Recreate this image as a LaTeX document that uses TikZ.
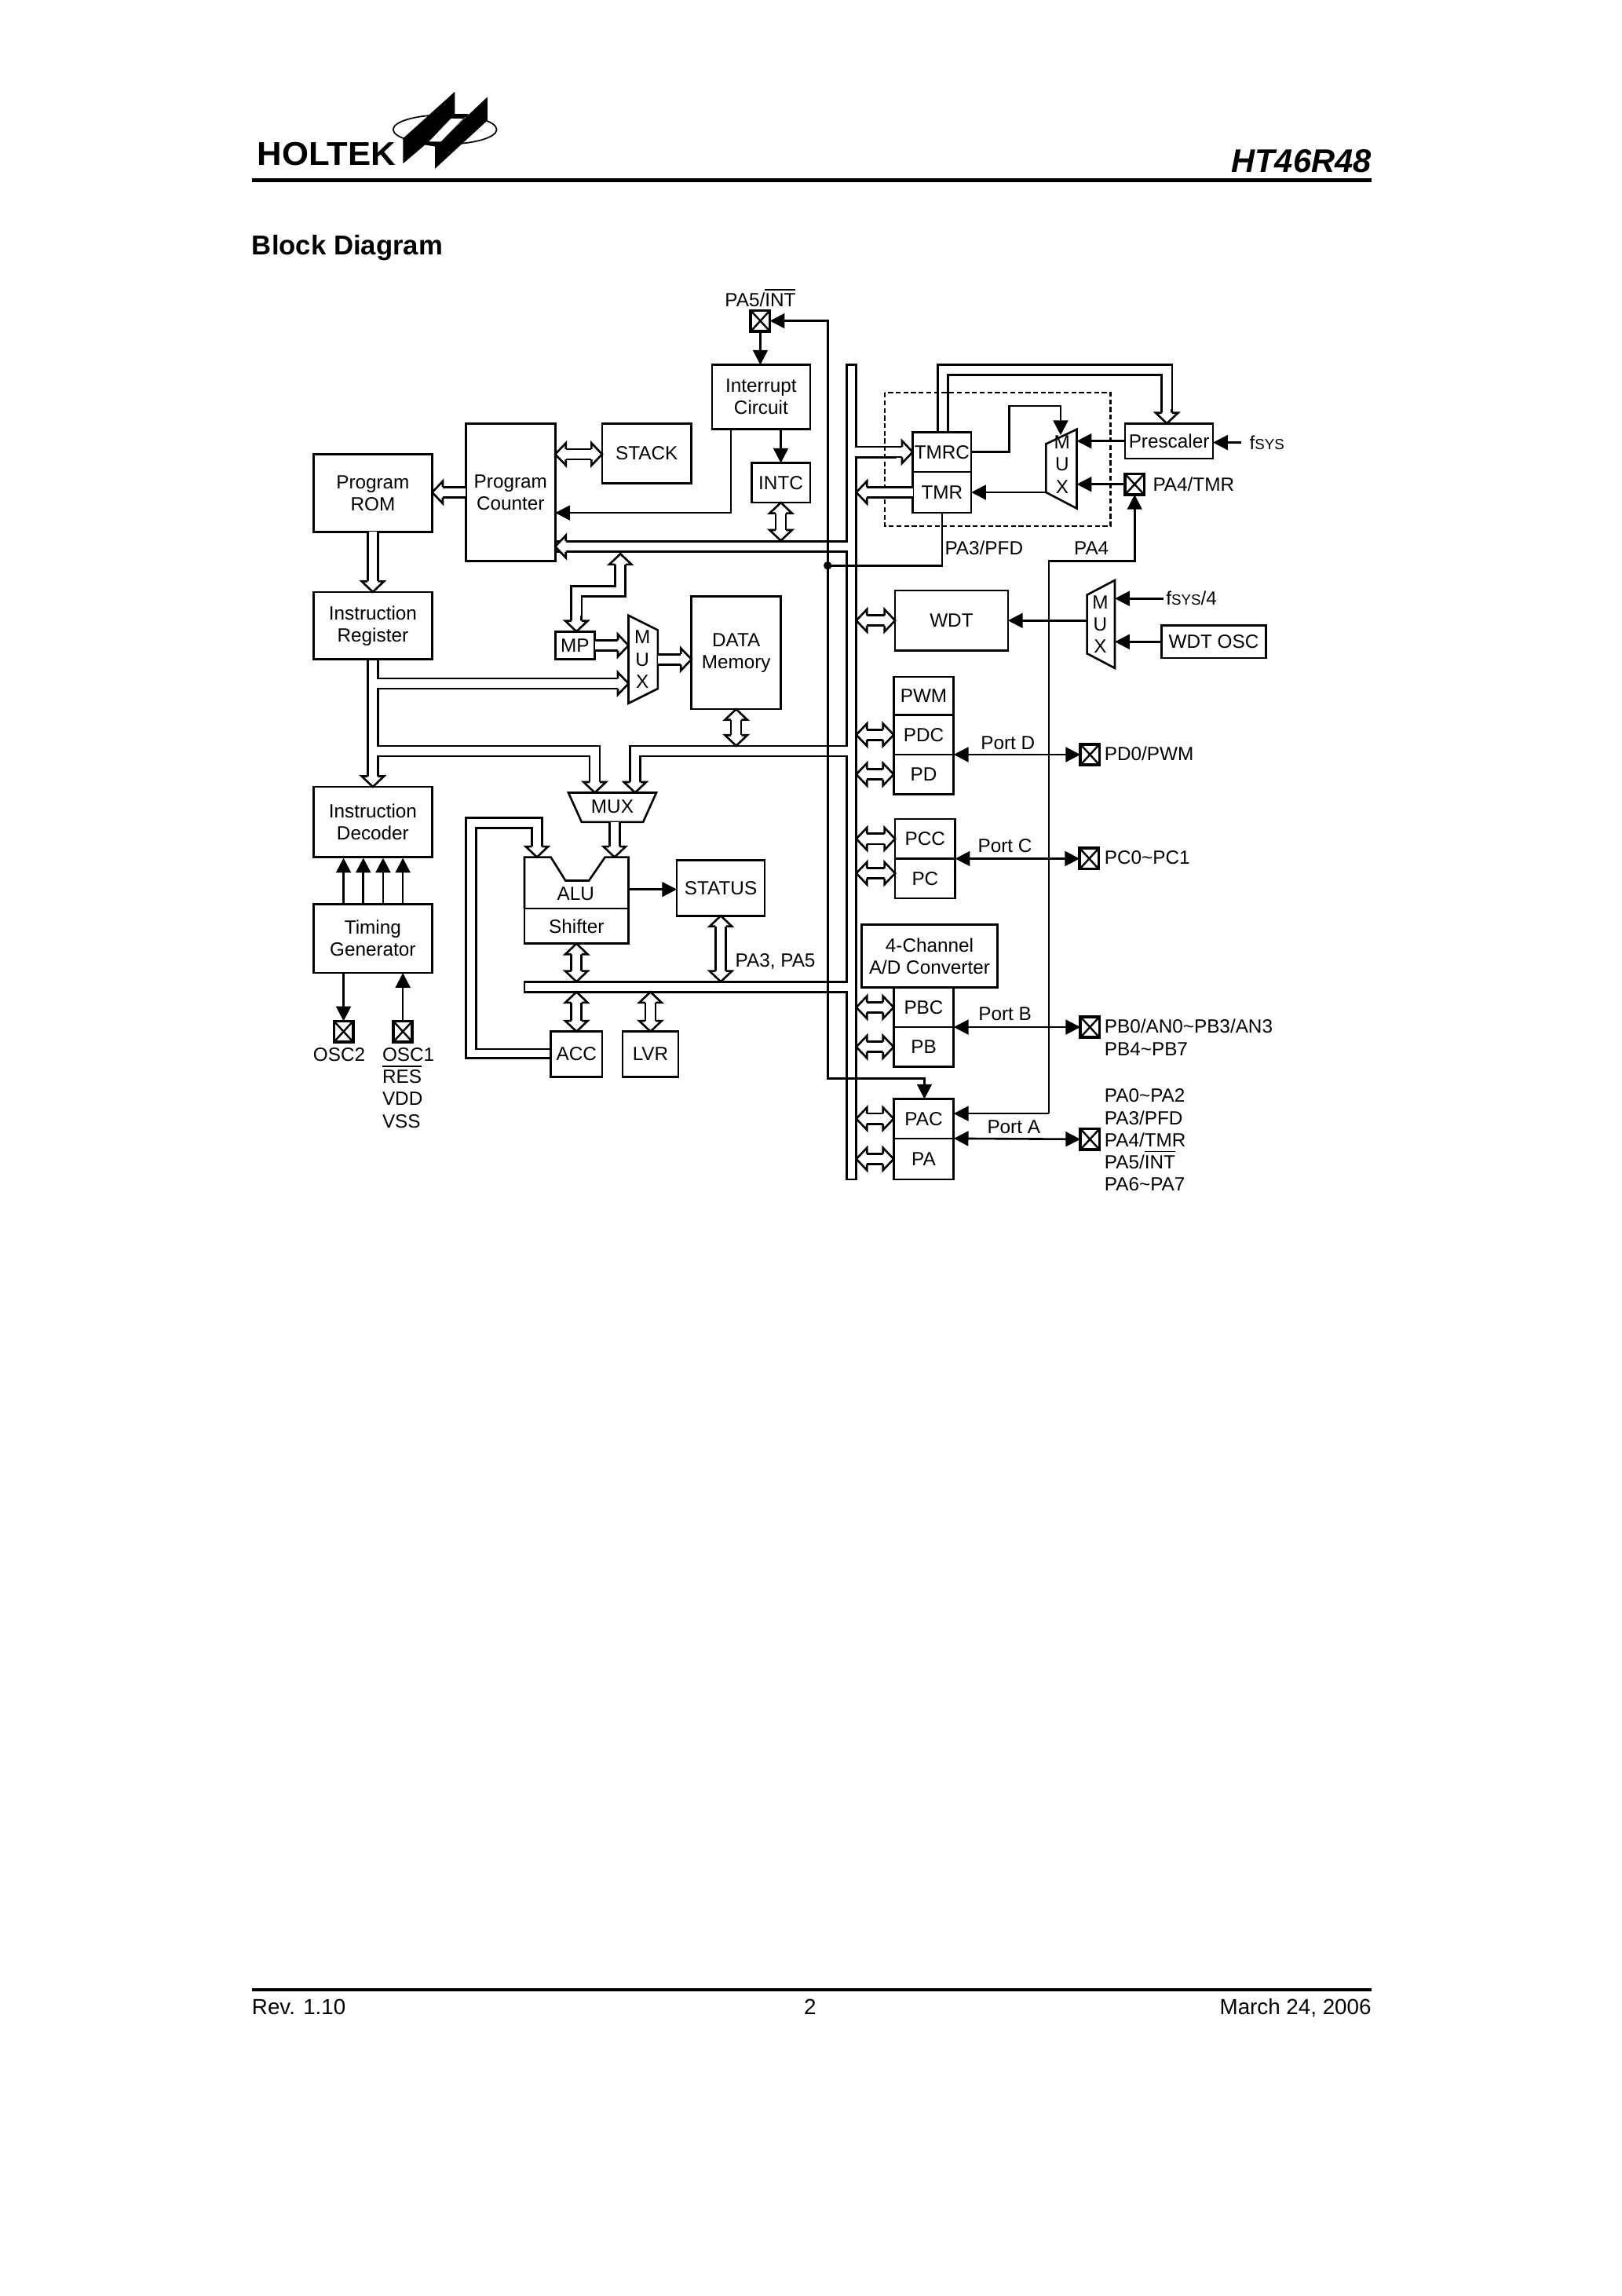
\documentclass[tikz,border=0pt]{standalone}
\usepackage{fontspec}
\setmainfont{Liberation Sans}
\usetikzlibrary{arrows.meta}

\pgfarrowsdeclare{bushead}{bushead}{\pgfarrowsleftextend{0pt}\pgfarrowsrightextend{3.9pt}}{
    \pgfsetlinewidth{.75pt}
    \pgfsetmiterjoin
    \pgfsetfillcolor{white}
    \pgfpathmoveto{\pgfpoint{0pt}{1.9pt}}
    \pgfpathlineto{\pgfpoint{0pt}{4.1pt}}
    \pgfpathlineto{\pgfpoint{3.9pt}{0pt}}
    \pgfpathlineto{\pgfpoint{0pt}{-4.1pt}}
    \pgfpathlineto{\pgfpoint{0pt}{-1.9pt}}
    \pgfusepathqfillstroke
}

\tikzset{
    bus/.style={double,double distance=3pt,arrows={-bushead}},
    busboth/.style={double,double distance=3pt,arrows={bushead-bushead}},
    block/.style={draw,rectangle,align=center,fill=white},
    padbox/.style={draw,rectangle,line width=1.05pt,minimum width=7pt,minimum height=7.6pt,
        path picture={
            \draw[line width=.7pt] (path picture bounding box.north west) -- (path picture bounding box.south east);
            \draw[line width=.7pt] (path picture bounding box.north east) -- (path picture bounding box.south west);
        }},
    tag/.style={anchor=west}
}
\newcommand{\fsys}{f{\fontsize{5.4}{6}\selectfont SYS}}
\newcommand{\blockbox}[6]{
    \node[block,minimum width={(#4-#2)*.5376pt},minimum height={(#5-#3)*.5376pt}] (#1) at ({(#2+#4)/2},{(#3+#5)/2}) {#6};
}

\begin{document}
\begin{tikzpicture}[x=.5376pt,y=-.5376pt,line width=.75pt,>={Triangle[length=5.4pt,width=5.4pt]},
        every node/.style={inner sep=0pt,outer sep=0pt,font=\fontsize{7}{8.1}\selectfont}]
    \useasboundingbox (0,0) rectangle (1107,1567);

    \begin{scope}[shift={(159.7,53.2)},xscale=.2717,yscale=.2228]
        \draw[line width=.5pt] (530,158) ellipse (130 and 45);
        \fill (555,42) -- (425,185) -- (425,262) -- (480,205) -- (555,110) -- cycle;
        \fill (637,58) -- (505,210) -- (505,278) -- (570,205) -- (637,130) -- cycle;
        \fill (555,110) -- (590,110) -- (505,210) -- (480,205) -- cycle;
        \fill[white] (545,125) -- (575,125) -- (520,195) -- (490,195) -- cycle;
    \end{scope}
    \node[anchor=west,xscale=1.04,font=\fontsize{12.1}{13}\bfseries\selectfont] (holtek) at (175.5,105) {HOLTEK};
    \node[anchor=east,font=\fontsize{12}{13}\bfseries\itshape\selectfont] (part) at (936,110) {HT46R48};
    \coordinate (headL) at (172,123);
    \coordinate (headR) at (936,123);
    \draw[line width=1.6pt] (headL) -- (headR);
    \node[anchor=west,font=\fontsize{10}{12}\bfseries\selectfont] (title) at (172,169) {Block Diagram};

    \coordinate (footL) at (172,1358);
    \coordinate (footR) at (936,1358);
    \draw[line width=1.2pt] (footL) -- (footR);
    \node[anchor=base west,font=\fontsize{8}{9}\selectfont] (rev) at (172,1375) {Rev. 1.10};
    \node[anchor=base,font=\fontsize{8}{9}\selectfont] (page) at (553,1375) {2};
    \node[anchor=base east,font=\fontsize{8}{9}\selectfont] (date) at (936,1375) {March 24, 2006};

    \coordinate (busL) at (578,0);
    \coordinate (busR) at (584.5,0);

    \draw[dash pattern=on 1.8pt off 1pt] (604,268) rectangle (758,359);

    \blockbox{prom}{214}{310}{295}{363}{Program\\ROM}
    \blockbox{pcnt}{318}{289}{379}{383}{Program\\Counter}
    \blockbox{stack}{411}{289}{472}{330}{STACK}
    \blockbox{intr}{486}{249}{553}{293}{Interrupt\\Circuit}
    \blockbox{intc}{513}{316}{553}{343}{INTC}
    \blockbox{tmrc}{623}{295}{663}{322}{TMRC}
    \blockbox{tmr}{623}{322}{663}{350}{TMR}
    \blockbox{prescaler}{768}{289}{828}{313}{Prescaler}
    \blockbox{ireg}{214}{404}{295}{450}{Instruction\\Register}
    \blockbox{idec}{214}{537}{295}{585}{Instruction\\Decoder}
    \blockbox{timing}{214}{617}{295}{664}{Timing\\Generator}
    \blockbox{mp}{379}{431}{406}{450}{MP}
    \blockbox{dmem}{472}{407}{533}{484}{DATA\\Memory}
    \blockbox{status}{462}{587}{522}{625}{STATUS}
    \blockbox{shifter}{358}{620}{429}{644}{Shifter}
    \blockbox{acc}{376}{704}{411}{735}{ACC}
    \blockbox{lvr}{425}{704}{463}{735}{LVR}
    \blockbox{wdt}{611}{403}{688}{444}{WDT}
    \blockbox{wdtosc}{793}{427}{864}{449}{WDT OSC}
    \blockbox{pwm}{610}{462}{651}{488}{PWM}
    \blockbox{pdc}{610}{488}{651}{515}{PDC}
    \blockbox{pd}{610}{515}{651}{542}{PD}
    \blockbox{pcc}{611}{559}{652}{586}{PCC}
    \blockbox{pc}{611}{586}{652}{613}{PC}
    \blockbox{adc}{588}{631}{681}{674}{4-Channel\\A/D Converter}
    \blockbox{pbc}{610}{674}{651}{701}{PBC}
    \blockbox{pb}{610}{701}{651}{728}{PB}
    \blockbox{pac}{610}{750}{651}{777}{PAC}
    \blockbox{pa}{610}{777}{651}{805}{PA}

    \draw (358,620) -- (358,585) -- (376,585) -- (386,601) -- (402,601) -- (413,585) -- (429,585) -- (429,620);
    \node (alu) at (393,610) {ALU};

    \draw (714,303) -- (735,293) -- (735,347) -- (714,336) -- cycle;
    \node[align=center] (muxT) at (725,317) {M\\U\\X};
    \draw (742,406) -- (761,396) -- (761,456) -- (742,446) -- cycle;
    \draw (429,420) -- (449,430) -- (449,470) -- (429,480) -- cycle;
    \draw (388,541) -- (448,541) -- (439,561) -- (397,561) -- cycle;
    \coordinate (muxTL) at (714,0);
    \coordinate (muxTR) at (735,0);
    \coordinate (muxWL) at (742,0);
    \coordinate (muxWR) at (761,0);
    \coordinate (muxDL) at (429,0);
    \coordinate (muxDR) at (449,0);
    \node[align=center] (muxW) at (751,426) {M\\U\\X};
    \node[align=center] (muxD) at (438.5,450) {M\\U\\X};
    \node (muxA) at (418,550.5) {MUX};

    \node[padbox] (pa5pad) at (519,219) {};
    \node[padbox] (pa4pad) at (774.5,330.5) {};
    \node[padbox] (osc2pad) at (234.5,704) {};
    \node[padbox] (osc1pad) at (275,704) {};
    \node[padbox] (pdpad) at (744,515) {};
    \node[padbox] (pcpad) at (743.5,586) {};
    \node[padbox] (pbpad) at (744,701) {};
    \node[padbox] (papad) at (744,777.5) {};

    \node (pa5txt) at (519,203) {PA5/$\overline{\mbox{INT}}$};
    \node[tag] (fsystxt) at (853,302) {\fsys};
    \node[tag] (pa4txt) at (787,330.5) {PA4/TMR};
    \node[tag] (pa3txt) at (645,374) {PA3/PFD};
    \node (pa4lab) at (745,374) {PA4};
    \node[tag] (fsys4txt) at (796,408.5) {\fsys/4};
    \node[tag] (pa35txt) at (502,656) {PA3, PA5};
    \node (portd) at (688,507) {Port D};
    \node (portc) at (686,577) {Port C};
    \node (portb) at (686,692) {Port B};
    \node (porta) at (692,769) {Port A};
    \node[tag] (pd0txt) at (754,514.5) {PD0/PWM};
    \node[tag] (pc0txt) at (754,585.5) {PC0\textasciitilde PC1};
    \node[tag,align=left] (pb0txt) at (754,708) {PB0/AN0\textasciitilde PB3/AN3\\[.2pt]PB4\textasciitilde PB7};
    \node[tag,align=left] (pa0txt) at (754,778) {PA0\textasciitilde PA2\\PA3/PFD\\PA4/TMR\\PA5/$\overline{\mbox{INT}}$\\PA6\textasciitilde PA7};
    \node (osc2txt) at (231.5,720) {OSC2};
    \node[tag,align=left] (osc1txt) at (261,742.5) {OSC1\\$\overline{\mbox{RES}}$\\VDD\\VSS};

    \draw (380,369.5) -- (578,369.5) -- (578,249) -- (584.5,249) -- (584.5,305) -- (612,305);
    \draw (612,312) -- (584.5,312) -- (584.5,805) -- (578,805) -- (578,677) -- (358,677) -- (358,670) -- (578,670) -- (578,516) -- (437,516) -- (437,530);
    \draw (380,376.5) -- (578,376.5) -- (578,509) -- (430,509) -- (430,530);
    \draw (251,450) -- (251,527);
    \draw (258,450) -- (258,463) -- (420,463);
    \draw (420,470) -- (258,470) -- (258,509) -- (409.5,509) -- (409.5,530);
    \draw (258,527) -- (258,516) -- (402.5,516) -- (402.5,530);
    \draw (376,722) -- (318,722) -- (318,558) -- (370,558) -- (370,575);
    \draw (376,716) -- (325,716) -- (325,565) -- (363,565) -- (363,575);
    \draw (640,295) -- (640,249) -- (800,249) -- (800,279);
    \draw (647,295) -- (647,256) -- (793,256) -- (793,279);
    \draw (390,420) -- (390,400) -- (420,400) -- (420,388);
    \draw (397,420) -- (397,407) -- (427,407) -- (427,388);

    \draw[bus] (389,373) -- (pcnt.east |- 0,373);
    \draw[bus] (612,308.5) -- (tmrc.west);
    \draw[bus] (tmr.west) -- (busR |- tmr.west);
    \draw[bus] (406,530) -- (406,541);
    \draw[bus] (433.5,530) -- (433.5,541);
    \draw[bus] (254.5,527) -- (idec.north);
    \draw[bus] (366.5,575) -- (366.5,585);
    \draw[bus] (796.5,279) -- (prescaler.north -| 796.5,0);
    \draw[bus] (420,466.5) -- (muxDL |- 0,466.5);
    \draw[bus] (393.5,420) -- (mp.north -| 393.5,0);
    \draw[bus] (423.5,388) -- (423.5,378);
    \draw[bus] (pcnt.west |- 0,336) -- (prom.east |- 0,336);
    \draw[bus] (prom.south) -- (ireg.north);
    \draw[bus] (mp.east) -- (muxDL |- mp.east);
    \draw[bus] (muxDR |- 0,450) -- (dmem.west |- 0,450);
    \draw[bus] (419.5,561) -- (419.5,585);

    \draw[busboth] (pcnt.east |- 0,310) -- (stack.west |- 0,310);
    \draw[busboth] (intc.south) -- (intc.south |- 0,369);
    \draw[busboth] (dmem.south) -- (dmem.south |- 0,509);
    \draw[busboth] (status.south) -- (status.south |- 0,670);
    \draw[busboth] (shifter.south) -- (shifter.south |- 0,670);
    \draw[busboth] (shifter.south |- 0,677) -- (shifter.south |- acc.north);
    \draw[busboth] (lvr.north |- 0,677) -- (lvr.north);
    \foreach \n in {wdt,pdc,pd,pcc,pbc,pb,pac,pa}{
        \draw[busboth] (busR |- \n.west) -- (\n.west);
    }
    \draw[busboth] (busR |- 0,596) -- (pc.west |- 0,596);

    \draw[->] (pa5pad.south) -- (intr.north -| pa5pad.south);
    \draw[->] (intc.north |- intr.south) -- (intc.north);
    \draw[->] (intr.south -| 499,0) -- (499,350) -- (pcnt.east |- 0,350);
    \draw[->] (565,386) -- (565,219) -- (pa5pad.east);
    \draw[->] (565,386) -- (565,736) -- (631,736) -- (pac.north -| 631,0);
    \fill (565,386) circle (2.8);
    \draw (565,386) -- (643,386) -- (643,350);
    \draw[->] (tmrc.east) -- (689,308.5) -- (689,277) -- (724,277) -- (724,297);
    \draw[->] (prescaler.west) -- (muxTR |- prescaler.west);
    \draw[->] (pa4pad.west) -- (muxTR |- pa4pad.west);
    \draw[->] (muxTL |- tmr.east) -- (tmr.east);
    \draw[->] (fsystxt.west) ++(-6,0) -- (prescaler.east |- fsystxt.west);
    \draw[->] (716,760) -- (716,383) -- (774.5,383) -- (pa4pad.south);
    \draw[->] (716,760) -- (pac.east |- 0,760);
    \draw[->] (muxWL |- wdt.east) -- (wdt.east);
    \draw[->] (fsys4txt.west) ++(-2,0) -- (muxWR |- fsys4txt.west);
    \draw[->] (wdtosc.west) -- (muxWR |- wdtosc.west);
    \foreach \a/\b in {pd/pdpad,pc/pcpad,pb/pbpad,pa/papad}{
        \draw[<->] (\a.north east) -- (\b.west);
    }
    \draw[->] (shifter.east |- 0,607) -- (status.west |- 0,607);
    \foreach \x in {234.5,248,261.5,275}{
        \draw[->] (\x,617) -- (\x,585.5);
    }
    \draw[->] (osc2pad.north |- timing.south) -- (osc2pad.north);
    \draw[->] (osc1pad.north) -- (osc1pad.north |- timing.south);
\end{tikzpicture}
\end{document}
